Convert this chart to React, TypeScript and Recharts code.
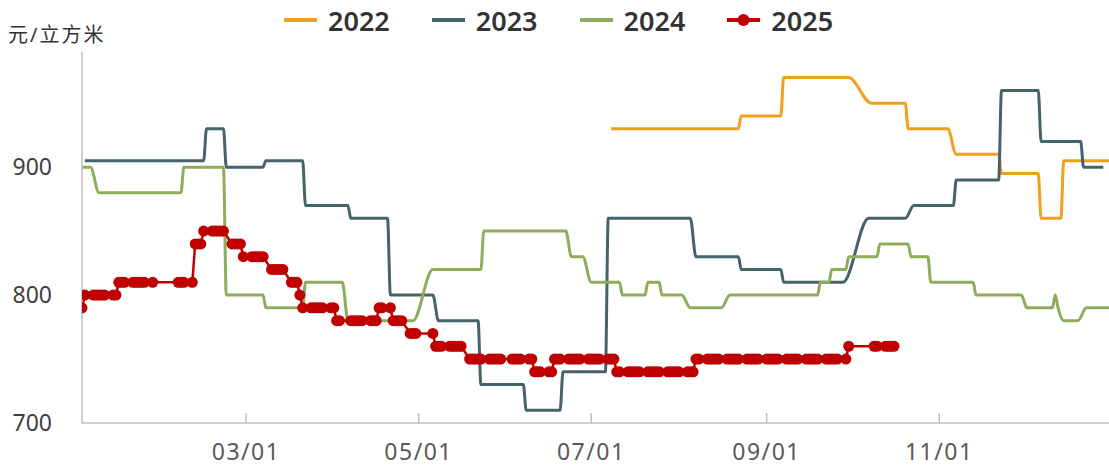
import React from "react";
import { Legend, Line, LineChart, XAxis, YAxis } from "recharts";

const FONT = '"Noto Sans", "Noto Sans CJK SC", sans-serif';

// month-day -> day of year (non-leap calendar, Jan 1 = 0)
const monthStart = [0, 31, 59, 90, 120, 151, 181, 212, 243, 273, 304, 334];
const toDay = (md: string) => {
  const [m, d] = md.split("-").map(Number);
  return monthStart[m - 1] + d - 1;
};

const seriesNames = ["2022", "2023", "2024", "2025"];
const seriesColors = ["#F0A01E", "#46626B", "#8DAD5B", "#C00000"];

const xTicks = ["03-01", "05-01", "07-01", "09-01", "11-01"];
const yTicks = [700, 800, 900];
const yUnit = "元/立方米";

// sparse points, smoothed by the monotone curve
const points2022: [string, number][] = [
  ["07-08", 930], ["08-22", 930], ["08-23", 940], ["09-06", 940], ["09-07", 970],
  ["09-30", 970], ["10-08", 950], ["10-20", 950], ["10-21", 930], ["11-04", 930],
  ["11-07", 910], ["11-22", 910], ["11-23", 895], ["12-06", 895], ["12-07", 860],
  ["12-14", 860], ["12-15", 905], ["12-31", 905],
];

const points2023: [string, number][] = [
  ["01-03", 905], ["02-14", 905], ["02-15", 930], ["02-21", 930], ["02-22", 900],
  ["03-07", 900], ["03-08", 905], ["03-21", 905], ["03-22", 870], ["04-06", 870],
  ["04-07", 860], ["04-20", 860], ["04-21", 800], ["05-06", 800], ["05-08", 780],
  ["05-22", 780], ["05-23", 730], ["06-07", 730], ["06-08", 710], ["06-20", 710],
  ["06-21", 740], ["07-06", 740], ["07-07", 860], ["08-05", 860], ["08-07", 830],
  ["08-22", 830], ["08-23", 820], ["09-06", 820], ["09-07", 810], ["09-28", 810],
  ["10-07", 860], ["10-20", 860], ["10-23", 870], ["11-06", 870], ["11-07", 890],
  ["11-22", 890], ["11-23", 960], ["12-06", 960], ["12-07", 920], ["12-21", 920],
  ["12-22", 900], ["12-29", 900],
];

const points2024: [string, number][] = [
  ["01-02", 900], ["01-05", 900], ["01-08", 880], ["02-06", 880], ["02-07", 900],
  ["02-21", 900], ["02-22", 800], ["03-07", 800], ["03-08", 790], ["03-21", 790],
  ["03-22", 810], ["04-04", 810], ["04-06", 780], ["04-29", 780], ["05-06", 820],
  ["05-23", 820], ["05-24", 850], ["06-22", 850], ["06-24", 830], ["06-28", 830],
  ["07-01", 810], ["07-11", 810], ["07-12", 800], ["07-20", 800], ["07-21", 810],
  ["07-25", 810], ["07-26", 800], ["08-02", 800], ["08-05", 790], ["08-16", 790],
  ["08-19", 800], ["09-19", 800], ["09-20", 810], ["09-23", 810], ["09-24", 820],
  ["09-29", 820], ["09-30", 830], ["10-10", 830], ["10-11", 840], ["10-21", 840],
  ["10-22", 830], ["10-28", 830], ["10-29", 810], ["11-13", 810], ["11-14", 800],
  ["11-30", 800], ["12-02", 790], ["12-11", 790], ["12-12", 800], ["12-13", 790],
  ["12-15", 780], ["12-20", 780], ["12-23", 790], ["12-31", 790],
];

// 2025 is quoted every working day: price changes (date it takes effect)
const changes2025: [string, number][] = [
  ["01-02", 790], ["01-03", 800], ["01-15", 810], ["02-11", 840], ["02-14", 850],
  ["02-24", 840], ["02-28", 830], ["03-10", 820], ["03-17", 810], ["03-20", 800],
  ["03-21", 790], ["04-02", 780], ["04-17", 790], ["04-22", 780], ["04-28", 770],
  ["05-07", 760], ["05-19", 750], ["06-11", 740], ["06-18", 750], ["07-10", 740],
  ["08-07", 750], ["09-30", 760],
];
const last2025 = "10-16";
const holidays2025: [string, string][] = [
  ["01-28", "02-04"], ["04-04", "04-06"], ["05-01", "05-05"], ["05-31", "06-02"], ["10-01", "10-08"],
];

const toRows = (pts: [string, number][]) => pts.map(([md, v]) => ({ d: toDay(md), v }));

// one row per 2025 working day, carrying the last quoted price
function workingDays(changes: [string, number][], last: string, holidays: [string, string][]) {
  const rows: { d: number; v: number }[] = [];
  let i = 0;
  for (let d = toDay(changes[0][0]); d <= toDay(last); d++) {
    const dow = (d + 3) % 7; // 2025-01-01 was a Wednesday
    if (dow === 0 || dow === 6) continue;
    if (holidays.some(([a, b]) => d >= toDay(a) && d <= toDay(b))) continue;
    while (i + 1 < changes.length && toDay(changes[i + 1][0]) <= d) i++;
    rows.push({ d, v: changes[i][1] });
  }
  return rows;
}

const data2022 = toRows(points2022);
const data2023 = toRows(points2023);
const data2024 = toRows(points2024);
const data2025 = workingDays(changes2025, last2025, holidays2025);

const XTick = (props: any) => {
  const { x, y, payload } = props;
  const [m, d] = xTicks[xTicks.findIndex((t) => toDay(t) === payload.value)].split("-");
  return (
    <g>
      <line x1={x} x2={x} y1={y - 10} y2={y} stroke="#BFBFBF" strokeWidth={1.5} />
      <text x={x} y={y + 29} dy="0.36em" textAnchor="middle" fill="#595959" fontSize={23} fontFamily={FONT} letterSpacing={1.5}>
        {`${m}/${d}`}
      </text>
    </g>
  );
};

const LegendContent = () => (
  <div
    style={{
      display: "flex",
      alignItems: "center",
      height: 40,
      paddingLeft: 284,
      fontFamily: FONT,
      fontSize: 27,
      fontWeight: 600,
      color: "#333",
    }}
  >
    {seriesNames.map((name, i) => (
      <div key={name} style={{ display: "flex", alignItems: "center", marginRight: 42 }}>
        <svg width={33} height={14} style={{ marginRight: 11 }}>
          <line x1={0} x2={33} y1={7} y2={7} stroke={seriesColors[i]} strokeWidth={4} />
          {i === 3 ? <circle cx={16.5} cy={7} r={6} fill={seriesColors[i]} /> : null}
        </svg>
        <span style={{ lineHeight: 1 }}>{name}</span>
      </div>
    ))}
  </div>
);

export default function App() {
  const lineData = [data2022, data2023, data2024];
  return (
    <div style={{ position: "absolute", left: 0, top: 0, background: "#fff" }}>
      <LineChart width={1109} height={471} margin={{ top: 52, right: 0, bottom: 0, left: 0 }}>
        <XAxis
          type="number"
          dataKey="d"
          domain={[1, 364]}
          ticks={xTicks.map(toDay)}
          interval={0}
          height={48}
          tickSize={0}
          tickMargin={0}
          tickLine={false}
          tick={<XTick />}
          stroke="#BFBFBF"
          strokeWidth={1.5}
          allowDataOverflow
        />
        <YAxis
          type="number"
          domain={[700, 990]}
          ticks={yTicks}
          interval={0}
          width={82}
          tickSize={0}
          tickMargin={30}
          tickLine={false}
          stroke="#BFBFBF"
          strokeWidth={1.5}
          tick={{ fill: "#404040", fontSize: 23, fontFamily: FONT }}
          allowDataOverflow
          label={() => (
            <text x={8} y={42} fill="#333" fontSize={20} fontFamily={FONT} letterSpacing={2}>
              {yUnit}
            </text>
          )}
        />
        <Legend
          layout="horizontal"
          verticalAlign="middle"
          align="center"
          content={<LegendContent />}
          wrapperStyle={{ top: 0, left: 0, width: 1109, height: 40 }}
        />
        {lineData.map((rows, i) => (
          <Line
            key={seriesNames[i]}
            data={rows}
            dataKey="v"
            name={seriesNames[i]}
            type="monotone"
            stroke={seriesColors[i]}
            strokeWidth={3}
            dot={false}
            activeDot={false}
            isAnimationActive={false}
          />
        ))}
        <Line
          data={data2025}
          dataKey="v"
          name={seriesNames[3]}
          type="linear"
          stroke={seriesColors[3]}
          strokeWidth={2.5}
          dot={{ r: 5.5, fill: seriesColors[3], stroke: "none" }}
          activeDot={false}
          isAnimationActive={false}
        />
      </LineChart>
    </div>
  );
}
